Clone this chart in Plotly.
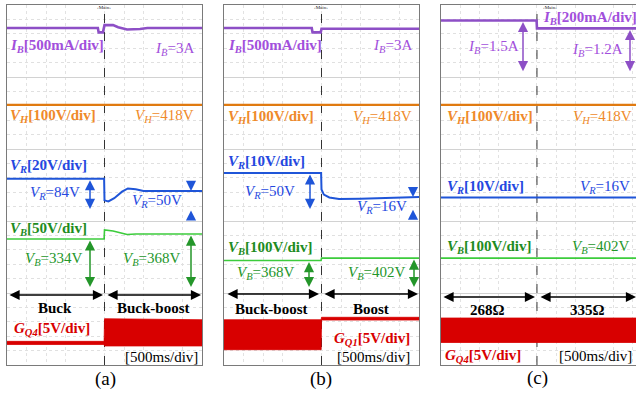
import plotly.graph_objects as go
import numpy as np

# ---------------- DATA ----------------
# Panel (a): Buck -> Buck-boost   (time in s, 500 ms/div)
a_IB_t = [0, 2.33, 2.35, 2.46, 2.50, 2.72, 2.85, 3.08, 3.41, 3.6, 5.0]
a_IB_v = [3.0, 3.0, 2.7, 2.7, 3.2, 3.2, 3.05, 2.9, 2.93, 3.0, 3.0]
a_VH_t = [0, 5.0]
a_VH_v = [418, 418]
a_VR_t = [0, 2.49, 2.5, 2.6, 2.75, 2.95, 3.1, 3.3, 3.5, 5.0]
a_VR_v = [84, 84, 24, 21, 30, 48, 57, 55, 50, 50]
a_VB_t = [0, 2.49, 2.5, 2.72, 2.9, 3.08, 3.3, 5.0]
a_VB_v = [334, 334, 396, 389, 377, 365, 368, 368]
a_G_t = [0, 2.49, 2.5, 5.0]
a_G_hi = [0.8, 0.8, 16.5, 15.8]
a_G_lo = [-1.4, -1.4, -2.4, -2.4]

# Panel (b): Buck-boost -> Boost
b_IB_t = [0, 2.25, 2.27, 2.48, 2.5, 5.0]
b_IB_v = [3.0, 3.0, 2.7, 2.7, 2.95, 2.95]
b_VH_t = [0, 5.0]
b_VH_v = [418, 418]
b_VR_t = [0, 2.49, 2.5, 2.56, 2.7, 2.95, 3.5, 4.2, 5.0]
b_VR_v = [50, 50, 27, 20, 16, 14, 14.2, 15.5, 16.5]
b_VB_t = [0, 2.49, 2.5, 5.0]
b_VB_v = [368, 368, 402, 402]
b_G_t = [0, 2.49, 2.5, 5.0]
b_G_hi = [15.8, 15.8, 17.5, 17.5]
b_G_lo = [-5.0, -5.0, 15.6, 15.6]

# Panel (c): 268 ohm -> 335 ohm
c_IB_t = [0, 2.49, 2.5, 5.08]
c_IB_v = [1.41, 1.41, 1.19, 1.19]
c_VH_t = [0, 5.08]
c_VH_v = [418, 418]
c_VR_t = [0, 5.08]
c_VR_v = [16, 16]
c_VB_t = [0, 5.08]
c_VB_v = [402, 402]
c_G_t = [0, 5.08]
c_G_hi = [17.0, 17.0]
c_G_lo = [0.0, 0.0]

# channel ground positions (screen divisions) and per-panel scales (units/div)
GND = {"IB": 40.8, "VH": 31.94, "VR": 21.67, "VB": 10.83, "G": 3.125}
SCALE = {
    "a": {"IB": 0.5, "VH": 100, "VR": 20, "VB": 50, "G": 5},
    "b": {"IB": 0.5, "VH": 100, "VR": 10, "VB": 100, "G": 5},
    "c": {"IB": 0.2, "VH": 100, "VR": 10, "VB": 100, "G": 5},
}

# ---------------- STYLE ----------------
W, H = 636, 394
FONT = "Liberation Serif"
PUR_T, PUR = "#8d4fc6", "#a24fdc"
ORG_T, ORG = "#e07a10", "#ef8a2a"
BLU_T, BLU = "#1f55d8", "#2448e0"
GRN_T, GRN_L, GRN = "#3ccc3c", "#24962a", "#1e8c22"
RED = "#d80000"

PANELS = {
    "a": dict(x0=7, x1=202, xr=5.0, xa="x", ya="y"),
    "b": dict(x0=224, x1=419, xr=5.0, xa="x2", ya="y2"),
    "c": dict(x0=441, x1=636, xr=5.08, xa="x3", ya="y3"),
}
YTOP, YBOT = 5, 365
PXDIV = (YBOT - YTOP) / 50.0


def tx(p, px):
    d = PANELS[p]
    return (px - d["x0"]) / (d["x1"] - d["x0"]) * d["xr"]


def dv(py):
    return (YBOT - py) / PXDIV


def lvl(p, ch, v):
    return GND[ch] + v / SCALE[p][ch]


fig = go.Figure()

series = {
    "a": dict(IB=(a_IB_t, a_IB_v), VH=(a_VH_t, a_VH_v), VR=(a_VR_t, a_VR_v), VB=(a_VB_t, a_VB_v),
              G=(a_G_t, a_G_hi, a_G_lo)),
    "b": dict(IB=(b_IB_t, b_IB_v), VH=(b_VH_t, b_VH_v), VR=(b_VR_t, b_VR_v), VB=(b_VB_t, b_VB_v),
              G=(b_G_t, b_G_hi, b_G_lo)),
    "c": dict(IB=(c_IB_t, c_IB_v), VH=(c_VH_t, c_VH_v), VR=(c_VR_t, c_VR_v), VB=(c_VB_t, c_VB_v),
              G=(c_G_t, c_G_hi, c_G_lo)),
}
sty = {"IB": (PUR_T, 2.6), "VH": (ORG_T, 2.2), "VR": (BLU_T, 2.0), "VB": (GRN_T, 1.6)}

for p, S in series.items():
    d = PANELS[p]
    # dashed transition line (drawn as a trace so it sits under the signals)
    fig.add_trace(go.Scatter(x=[2.5, 2.5], y=[0, 50], mode="lines",
                             line=dict(color="#333333", width=1, dash="dash"),
                             xaxis=d["xa"], yaxis=d["ya"], hoverinfo="skip", showlegend=False))
    # gate band
    t, hi, lo = S["G"]
    xs = list(t) + list(t)[::-1]
    ys = [lvl(p, "G", v) for v in hi] + [lvl(p, "G", v) for v in lo][::-1]
    fig.add_trace(go.Scatter(x=xs, y=ys, fill="toself", fillcolor=RED, mode="lines",
                             line=dict(color=RED, width=0.8), xaxis=d["xa"], yaxis=d["ya"],
                             hoverinfo="skip", showlegend=False))
    for ch in ["VB", "VR", "VH", "IB"]:
        t, v = S[ch]
        c, w = sty[ch]
        fig.add_trace(go.Scatter(x=t, y=[lvl(p, ch, q) for q in v], mode="lines",
                                 line=dict(color=c, width=w), xaxis=d["xa"], yaxis=d["ya"],
                                 hoverinfo="skip", showlegend=False))
    # ground markers
    mx = {"a": tx("a", 3.5), "b": tx("b", 217), "c": tx("c", 437)}[p]
    gch = ["IB", "VH", "VR", "VB", "G"]
    fig.add_trace(go.Scatter(x=[mx] * 5, y=[GND[k] for k in gch], mode="markers",
                             marker=dict(symbol="triangle-right", size=7,
                                         color=[PUR_T, ORG_T, BLU_T, GRN_T, RED]),
                             cliponaxis=False, xaxis=d["xa"], yaxis=d["ya"],
                             hoverinfo="skip", showlegend=False))

layout = dict(
    width=W, height=H, margin=dict(l=0, r=0, t=0, b=0),
    paper_bgcolor="white", plot_bgcolor="white", showlegend=False,
    font=dict(family=FONT, size=15, color="black"),
)
for k, (p, d) in enumerate(PANELS.items()):
    sfx = "" if k == 0 else str(k + 1)
    layout["xaxis" + sfx] = dict(
        domain=[d["x0"] / W, d["x1"] / W], range=[0, d["xr"]], anchor="y" + sfx,
        showticklabels=False, ticks="", zeroline=False, showgrid=False,
        showline=True, mirror=True, linecolor="#7a7a7a", linewidth=1,
        minor=dict(dtick=0.5, tick0=0, showgrid=True, gridcolor="#e2e2e2", griddash="dot", gridwidth=1),
    )
    layout["yaxis" + sfx] = dict(
        domain=[1 - YBOT / H, 1 - YTOP / H], range=[0, 50], anchor="x" + sfx,
        showticklabels=False, ticks="", zeroline=False,
        showgrid=True, dtick=10, tick0=0, gridcolor="#d2d2d2", gridwidth=1,
        showline=True, mirror=True, linecolor="#7a7a7a", linewidth=1,
        minor=dict(dtick=2, tick0=0, showgrid=True, gridcolor="#e0e0e0", griddash="dot", gridwidth=1),
    )
fig.update_layout(**layout)

ann = []


def T(px, py, s, color="black", anchor="left", size=15):
    ann.append(dict(x=px / W, y=1 - py / H, xref="paper", yref="paper", text=s, showarrow=False,
                    xanchor=anchor, yanchor="middle", font=dict(family=FONT, size=size, color=color)))


def A(p, x0, y0, x1, y1, color, both=True, width=1.5, size=1.35):
    d = PANELS[p]
    ann.append(dict(x=x1, y=y1, ax=x0, ay=y0, xref=d["xa"], yref=d["ya"], axref=d["xa"], ayref=d["ya"],
                    text="", showarrow=True, arrowhead=2, arrowsize=size, arrowwidth=width,
                    arrowcolor=color, arrowside="end+start" if both else "end"))


def lab(sym, sub, rest):
    return "<b><i>%s</i><sub><i>%s</i></sub>%s</b>" % (sym, sub, rest)


def val(sym, sub, rest):
    return "<i>%s</i><sub><i>%s</i></sub>%s" % (sym, sub, rest)


# --- panel (a)
T(8, 46, lab("I", "B", "[500mA/div]"), PUR)
T(196, 49, val("I", "B", "=3A"), PUR, "right")
T(8, 116, lab("V", "H", "[100V/div]"), ORG)
T(196, 116, val("V", "H", "=418V"), ORG, "right")
T(8, 166, lab("V", "R", "[20V/div]"), BLU)
T(82, 193, val("V", "R", "=84V"), BLU, "right")
T(130, 201, val("V", "R", "=50V"), BLU)
T(8, 229, lab("V", "B", "[50V/div]"), GRN)
T(54, 259, val("V", "B", "=334V"), GRN_L, "center")
T(152, 259, val("V", "B", "=368V"), GRN_L, "center")
T(55, 308, "<b>Buck</b>", "black", "center")
T(153, 308, "<b>Buck-boost</b>", "black", "center")
T(12, 329, lab("G", "Q4", "[5V/div]"), RED)
T(200, 357, "[500ms/div]", "black", "right")
T(105, 379, "(a)", "black", "center", 19)

A("a", tx("a", 90), lvl("a", "VR", a_VR_v[0]), tx("a", 90), GND["VR"], BLU_T)
A("a", tx("a", 191), dv(181), tx("a", 191), lvl("a", "VR", a_VR_v[-1]), BLU_T, both=False)
A("a", tx("a", 191), dv(221), tx("a", 191), GND["VR"] - 0.2, BLU_T, both=False)
A("a", tx("a", 90), lvl("a", "VB", a_VB_v[0]), tx("a", 90), GND["VB"], GRN_L)
A("a", tx("a", 191), lvl("a", "VB", a_VB_v[-1]), tx("a", 191), GND["VB"], GRN_L)
A("a", tx("a", 8), dv(295), tx("a", 103), dv(295), "black")
A("a", tx("a", 106), dv(295), tx("a", 201), dv(295), "black")

# --- panel (b)
T(226, 46, lab("I", "B", "[500mA/div]"), PUR)
T(414, 46, val("I", "B", "=3A"), PUR, "right")
T(226, 117, lab("V", "H", "[100V/div]"), ORG)
T(414, 117, val("V", "H", "=418V"), ORG, "right")
T(226, 162, lab("V", "R", "[10V/div]"), BLU)
T(270, 192, val("V", "R", "=50V"), BLU, "center")
T(382, 207, val("V", "R", "=16V"), BLU, "center")
T(226, 248, lab("V", "B", "[100V/div]"), GRN)
T(266, 273, val("V", "B", "=368V"), GRN_L, "center")
T(377, 273, val("V", "B", "=402V"), GRN_L, "center")
T(271, 309, "<b>Buck-boost</b>", "black", "center")
T(371, 309, "<b>Boost</b>", "black", "center")
T(412, 339, lab("G", "Q1", "[5V/div]"), RED, "right")
T(412, 357, "[500ms/div]", "black", "right")
T(321, 379, "(b)", "black", "center", 19)

A("b", tx("b", 310), lvl("b", "VR", b_VR_v[0]), tx("b", 310), GND["VR"], BLU_T)
A("b", tx("b", 413), dv(186), tx("b", 413), lvl("b", "VR", b_VR_v[-1]), BLU_T, both=False)
A("b", tx("b", 413), dv(219), tx("b", 413), GND["VR"] - 0.1, BLU_T, both=False)
A("b", tx("b", 309), lvl("b", "VB", b_VB_v[0]), tx("b", 309), GND["VB"], GRN_L)
A("b", tx("b", 414), lvl("b", "VB", b_VB_v[-1]), tx("b", 414), GND["VB"], GRN_L)
A("b", tx("b", 226), dv(294), tx("b", 319), dv(294), "black")
A("b", tx("b", 323), dv(294), tx("b", 418), dv(294), "black")

# --- panel (c)
T(541, 18, lab("I", "B", "[200mA/div]"), PUR)
T(493, 47, val("I", "B", "=1.5A"), PUR, "center")
T(597, 50, val("I", "B", "=1.2A"), PUR, "center")
T(445, 117, lab("V", "H", "[100V/div]"), ORG)
T(634, 117, val("V", "H", "=418V"), ORG, "right")
T(445, 187, lab("V", "R", "[10V/div]"), BLU)
T(632, 187, val("V", "R", "=16V"), BLU, "right")
T(445, 247, lab("V", "B", "[100V/div]"), GRN)
T(632, 247, val("V", "B", "=402V"), GRN_L, "right")
T(487, 310, "<b>268Ω</b>", "black", "center")
T(587, 310, "<b>335Ω</b>", "black", "center")
T(443, 356, lab("G", "Q4", "[5V/div]"), RED)
T(634, 356, "[500ms/div]", "black", "right")
T(537, 378, "(c)", "black", "center", 19)

A("c", tx("c", 523), lvl("c", "IB", c_IB_v[0]), tx("c", 523), GND["IB"], PUR_T)
A("c", tx("c", 630), lvl("c", "IB", c_IB_v[-1]), tx("c", 630), GND["IB"], PUR_T)
A("c", tx("c", 442), dv(297), tx("c", 535), dv(297), "black")
A("c", tx("c", 539), dv(297), tx("c", 636), dv(297), "black")

# "<Main>" trigger markers
for px in (104, 321, 550):
    T(px, 8, "‹Main›", "#222222", "center", 5)

fig.update_layout(annotations=ann)
fig.write_html("out.html")
